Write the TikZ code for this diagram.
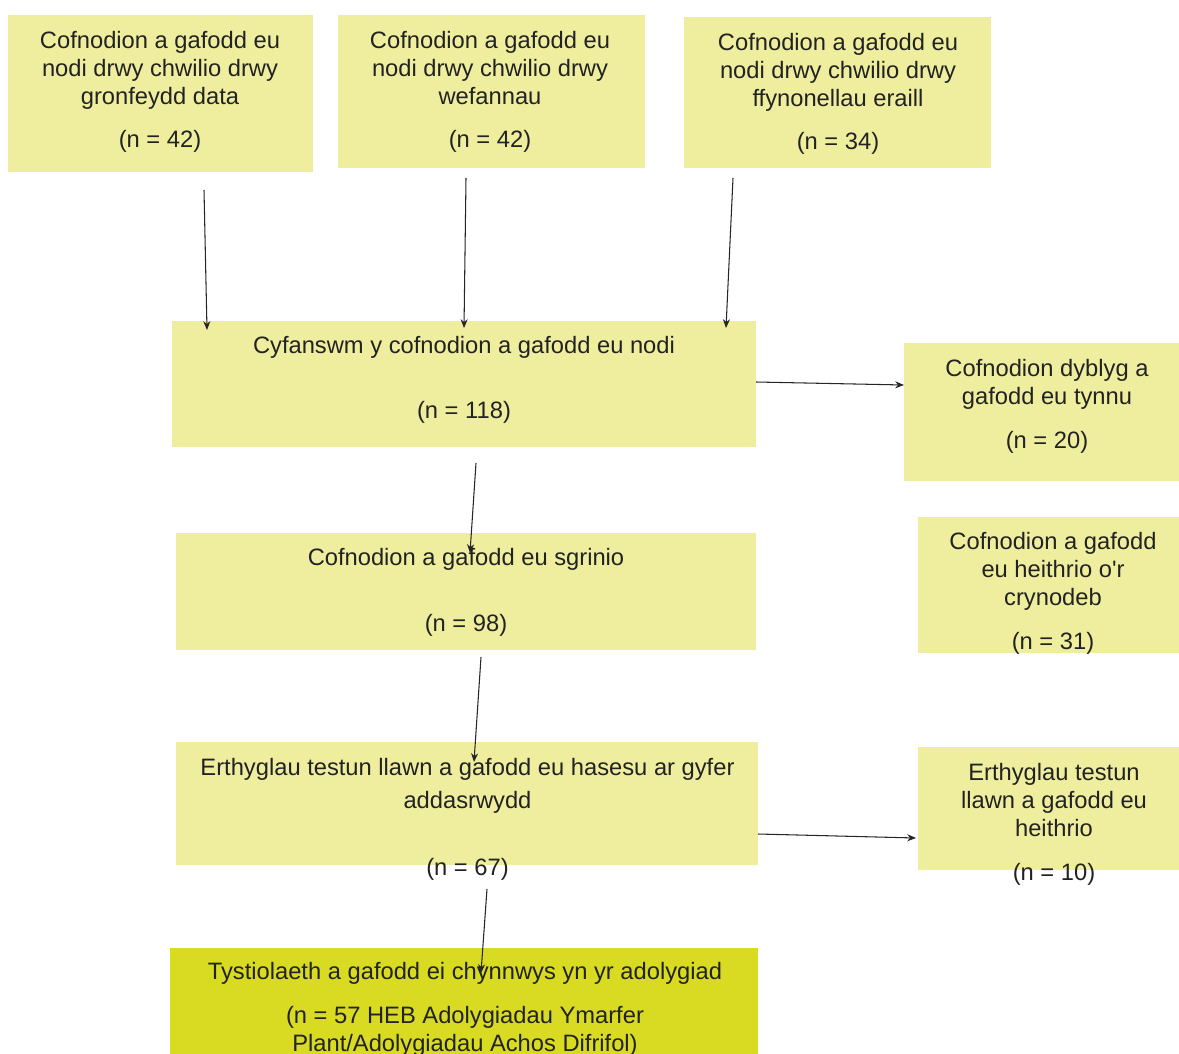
\documentclass[tikz,border=0pt]{standalone}
\usepackage{fontspec}
\setmainfont{Liberation Sans}
\usepackage{tikz}
\usetikzlibrary{arrows.meta}
\definecolor{boxyellow}{HTML}{EEEE9E}
\definecolor{keptyellow}{HTML}{D9DB22}
\definecolor{inkgrey}{HTML}{222222}

\begin{document}
\begin{tikzpicture}[x=0.02cm,y=-0.02cm,
			box node/.style={rectangle,fill=boxyellow,inner sep=0pt},
			text node/.style={inner sep=0pt,align=center,text=inkgrey,
				font=\fontsize{13.5}{15.9}\selectfont},
			flow/.style={-{Stealth[length=5pt,width=4pt]},line width=0.6pt,draw=black!85}]
			\useasboundingbox (0,0) rectangle (1179,1054);
			
			% boxes
			\node[box node,minimum width=6.10cm,minimum height=3.14cm] (dbase) at (160.5,93.5) {};
			\node[box node,minimum width=6.14cm,minimum height=3.06cm] (web) at (491.5,91.5) {};
			\node[box node,minimum width=6.14cm,minimum height=3.02cm] (other) at (837.5,92.5) {};
			\node[box node,minimum width=11.68cm,minimum height=2.52cm] (total) at (464,384) {};
			\node[box node,minimum width=5.72cm,minimum height=2.76cm] (dupl) at (1047,412) {};
			\node[box node,minimum width=11.60cm,minimum height=2.34cm] (screen) at (466,591.5) {};
			\node[box node,minimum width=5.44cm,minimum height=2.72cm] (abstr) at (1054,585) {};
			\node[box node,minimum width=11.64cm,minimum height=2.46cm] (fulltext) at (467,803.5) {};
			\node[box node,minimum width=5.44cm,minimum height=2.46cm] (excl) at (1054,808.5) {};
			\node[box node,fill=keptyellow,minimum width=11.76cm,minimum height=2.44cm] (incl) at (464,1009) {};
			
			% texts
			\node[text node] (dbase-t) at (160,92) {Cofnodion a gafodd eu\\nodi drwy chwilio drwy\\gronfeydd data\\[9pt](n = 42)};
			\node[text node] (web-t) at (490,92) {Cofnodion a gafodd eu\\nodi drwy chwilio drwy\\wefannau\\[9pt](n = 42)};
			\node[text node] (other-t) at (838,94) {Cofnodion a gafodd eu\\nodi drwy chwilio drwy\\ffynonellau eraill\\[9pt](n = 34)};
			\node[text node] (total-t) at (464,380) {Cyfanswm y cofnodion a gafodd eu nodi\\[21pt](n = 118)};
			\node[text node] (dupl-t) at (1047,406.5) {Cofnodion dyblyg a\\gafodd eu tynnu\\[9pt](n = 20)};
			\node[text node] (screen-t) at (466,592.5) {Cofnodion a gafodd eu sgrinio\\[22pt](n = 98)};
			\node[text node] (abstr-t) at (1053,593.5) {Cofnodion a gafodd\\eu heithrio o\textquotesingle r\\crynodeb\\[9pt](n = 31)};
			\node[text node] (fulltext-t) at (467.5,819.5) {Erthyglau testun llawn a gafodd eu hasesu ar gyfer\\[3pt]addasrwydd\\[22pt](n = 67)};
			\node[text node] (excl-t) at (1054,824.5) {Erthyglau testun\\llawn a gafodd eu\\heithrio\\[9pt](n = 10)};
			\node[text node] (incl-t) at (465,1009.5) {Tystiolaeth a gafodd ei chynnwys yn yr adolygiad\\[9pt](n = 57 HEB Adolygiadau Ymarfer\\Plant/Adolygiadau Achos Difrifol)};
			
			% connector ends
			\coordinate (dbase-out) at (204,190);
			\coordinate (dbase-in) at (207,330);
			\coordinate (web-out) at (466,178);
			\coordinate (web-in) at (464,328);
			\coordinate (other-out) at (733,178);
			\coordinate (other-in) at (726,328);
			\coordinate (total-out) at (476,463);
			\coordinate (screen-in) at (470,553);
			\coordinate (total-side) at (756,382);
			\coordinate (dupl-in) at (904,385);
			\coordinate (screen-out) at (481,657);
			\coordinate (fulltext-in) at (474,762);
			\coordinate (fulltext-side) at (758,834);
			\coordinate (excl-in) at (916,838);
			\coordinate (fulltext-out) at (487,889);
			\coordinate (incl-in) at (481,973);
			
			\draw[flow] (dbase-out) -- (dbase-in);
			\draw[flow] (web-out) -- (web-in);
			\draw[flow] (other-out) -- (other-in);
			\draw[flow] (total-out) -- (screen-in);
			\draw[flow] (total-side) -- (dupl-in);
			\draw[flow] (screen-out) -- (fulltext-in);
			\draw[flow] (fulltext-side) -- (excl-in);
			\draw[flow] (fulltext-out) -- (incl-in);
		\end{tikzpicture}
\end{document}
